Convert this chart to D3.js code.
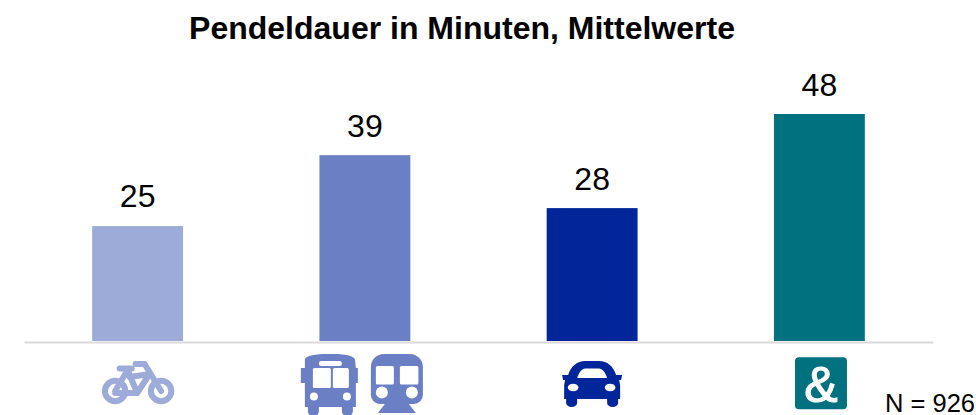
<!DOCTYPE html>
<html><head><meta charset="utf-8">
<script src="https://cdn.jsdelivr.net/npm/d3@7"></script>
<style>html,body{margin:0;padding:0;background:#fff;overflow:hidden}svg{display:block}text{font-family:"Liberation Sans",Arial,sans-serif;fill:#000}</style>
</head><body><script>
const titleText = "Pendeldauer in Minuten, Mittelwerte";
const noteText = "N = 926";
const categories = ["Fahrrad", "ÖPNV", "Auto", "Kombination"];
const values = [24.3, 39.3, 28.1, 48];
const labels = ["25", "39", "28", "48"];
const colors = ["#9dabd9", "#6b80c4", "#002699", "#00727f"];

const W = 976, H = 415, baseY = 341;
const svg = d3.select("body").append("svg").attr("width", W).attr("height", H);
const x = d3.scaleBand().domain(categories).range([24, 933]).paddingInner(0.6).paddingOuter(0.3);
const y = d3.scaleLinear().domain([0, 48]).range([baseY, 114]);

svg.append("text").attr("x", 462).attr("y", 39).attr("text-anchor", "middle")
  .attr("font-size", 32).attr("font-weight", 700).text(titleText);

svg.append("g").selectAll("rect").data(categories).join("rect")
  .attr("x", d => x(d)).attr("width", x.bandwidth())
  .attr("y", (d, i) => y(values[i])).attr("height", (d, i) => baseY - y(values[i]))
  .attr("fill", (d, i) => colors[i]);

const labelGap = [19, 18, 18, 18];
svg.append("g").selectAll("text").data(categories).join("text")
  .attr("x", d => x(d) + x.bandwidth() / 2)
  .attr("y", (d, i) => y(values[i]) - labelGap[i])
  .attr("text-anchor", "middle").attr("font-size", 32).text((d, i) => labels[i]);

const axis = d3.axisBottom(x).tickSize(0).tickFormat("");
const axG = svg.append("g").attr("transform", `translate(0,${baseY + 1})`).call(axis);
axG.select(".domain").attr("stroke", "#d9d9d9").attr("stroke-width", 2);

svg.append("text").attr("x", 885).attr("y", 412).attr("font-size", 25.5).text(noteText);

const center = d => x(d) + x.bandwidth() / 2;
function iconGroup(cat) {
  return svg.append("g").attr("transform", `translate(${center(cat)},${baseY})`);
}

// Icon glyphs: local coordinates, origin = category centre on the baseline
const bike = iconGroup(categories[0]);
bike.attr("fill", "none").attr("stroke", colors[0]).attr("stroke-width", 6)
  .attr("stroke-linecap", "round").attr("stroke-linejoin", "round");
bike.append("circle").attr("cx", -22.5).attr("cy", 50).attr("r", 10.2);
bike.append("circle").attr("cx", 23.5).attr("cy", 50).attr("r", 10.2);
bike.append("path").attr("d", "M-22.5 50 L-10 29 L-0.5 52 L-22.5 52 M-0.5 52 L12 33 L-8 36 M-18 27.5 L-6 27.5 M-2 23 L7 23 L23.5 50");

const bus = iconGroup(categories[1]);
bus.attr("fill", colors[1]);
bus.append("path").attr("d", "M-60 18 C-56 13 -44 13 -35 13 C-26 13 -14 13 -10 18 L-9 27 L-7 27 L-7 42 L-9 42 L-9 66 L-12 66 L-12 70 A5 5 0 0 1 -23 70 L-23 66 L-46 66 L-46 70 A5 5 0 0 1 -57 70 L-57 66 L-60 66 L-60 42 L-64 42 L-64 27 L-60 27 Z");
bus.append("rect").attr("x", -52).attr("y", 27).attr("width", 18).attr("height", 20).attr("rx", 1.5).attr("fill", "#fff");
bus.append("rect").attr("x", -32).attr("y", 27).attr("width", 16).attr("height", 20).attr("rx", 1.5).attr("fill", "#fff");
bus.append("rect").attr("x", -46).attr("y", 20).attr("width", 23).attr("height", 5).attr("rx", 2.5).attr("fill", "#fff");
bus.append("circle").attr("cx", -51).attr("cy", 55.5).attr("r", 4).attr("fill", "#fff");
bus.append("circle").attr("cx", -18).attr("cy", 55.5).attr("r", 4).attr("fill", "#fff");

bus.append("path").attr("d", "M6 26 A13 13 0 0 1 19 13 L45 13 A13 13 0 0 1 58 26 L58 54 A9 9 0 0 1 49 63 L44 63 L51 72 L13 72 L20 63 L15 63 A9 9 0 0 1 6 54 Z");
bus.append("rect").attr("x", 11).attr("y", 25).attr("width", 18).attr("height", 18.5).attr("rx", 1.5).attr("fill", "#fff");
bus.append("rect").attr("x", 35).attr("y", 25).attr("width", 18.5).attr("height", 18.5).attr("rx", 1.5).attr("fill", "#fff");
bus.append("circle").attr("cx", 17).attr("cy", 51.5).attr("r", 6).attr("fill", "#fff");
bus.append("circle").attr("cx", 47).attr("cy", 51.5).attr("r", 6).attr("fill", "#fff");

const car = iconGroup(categories[2]);
car.attr("fill", colors[2]);
car.append("path").attr("d", "M-30 34 L-24 34 C-21 25 -15 20 -7 20 L7 20 C15 20 21 25 24 34 L30 34 L29 39 L27 39 L28 44 L28 58 L26 58 L26 62 A5.5 4 0 0 1 15 62 L15 58 L-15 58 L-15 62 A5.5 4 0 0 1 -26 62 L-26 58 L-28 58 L-28 44 L-27 39 L-29 39 Z");
car.append("path").attr("d", "M-15 37 C-13 31 -10 27.5 -7 27.5 L7 27.5 C10 27.5 13 31 15 37 Z").attr("fill", "#fff");
car.append("ellipse").attr("cx", -19).attr("cy", 46.5).attr("rx", 5.3).attr("ry", 3.8).attr("fill", "#fff");
car.append("ellipse").attr("cx", 18).attr("cy", 46.5).attr("rx", 5.3).attr("ry", 3.8).attr("fill", "#fff");

const amp = iconGroup(categories[3]);
amp.append("rect").attr("x", -24.4).attr("y", 16.3).attr("width", 52).attr("height", 52).attr("rx", 4).attr("fill", colors[3]);
amp.append("text").attr("x", 1.6).attr("y", 60.5).attr("text-anchor", "middle")
  .attr("font-size", 50).style("fill", "#fff").style("stroke", "#fff").style("stroke-width", 1.2).text("&");
</script></body></html>
